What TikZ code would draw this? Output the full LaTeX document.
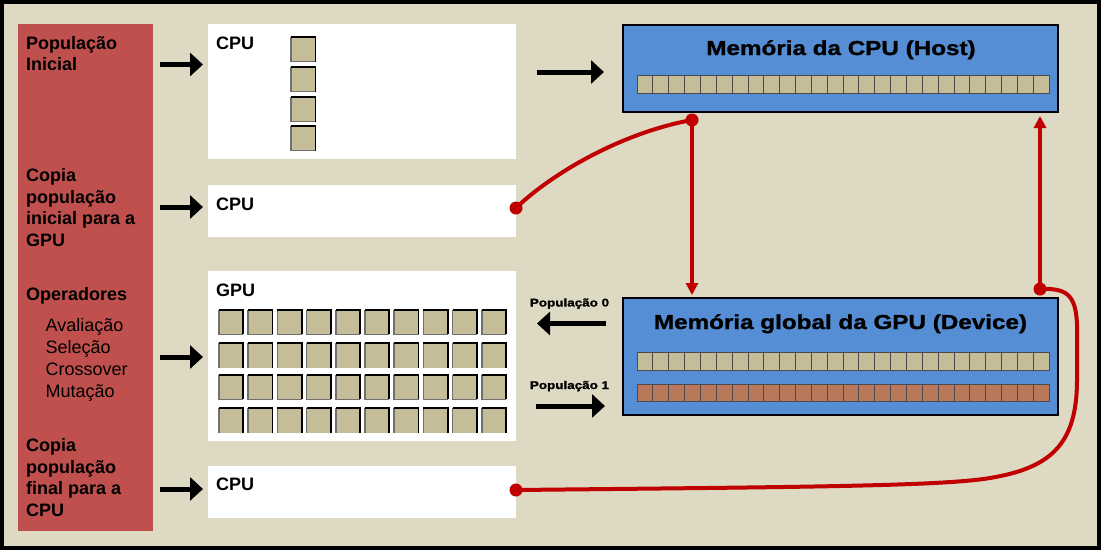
\documentclass[tikz,border=0pt]{standalone}
\usepackage{fontspec}
\setmainfont{Liberation Sans}
\newfontfamily\widefont[FakeStretch=1.2,FakeBold=1.2]{Liberation Sans}
\usetikzlibrary{arrows.meta,calc}
\definecolor{bgc}{HTML}{DDD9C3}
\definecolor{panelc}{HTML}{C0504D}
\definecolor{bluec}{HTML}{558ED5}
\definecolor{cellc}{HTML}{C4BD97}
\definecolor{brownc}{HTML}{B9785A}
\definecolor{redl}{HTML}{C00000}
\definecolor{edgegray}{HTML}{707070}
\definecolor{sepgray}{HTML}{4A4A4A}
\newcommand\gcell[3]{%
  \fill[cellc] (#1,#2) rectangle ++(#3,#3);
  \draw[edgegray, line width=1.5pt] (#1,#2) -- ++(0,#3) -- ++(#3,0);
  \draw[black, line width=1.8pt] (#1,#2) -- ++(#3,0) -- ++(0,#3);}
\newcommand\gcellopen[3]{%
  \fill[cellc] (#1,#2) rectangle ++(#3,#3);
  \draw[edgegray, line width=1.5pt] (#1,#2) -- ++(0,#3);
  \draw[black, line width=1.8pt] (#1,#2) -- ++(#3,0) -- ++(0,#3);}
\tikzset{
  panelbox/.style={fill=panelc, inner sep=0pt, outer sep=0pt, anchor=north west},
  whitebox/.style={fill=white, inner sep=0pt, outer sep=0pt, anchor=north west, minimum width=308pt},
  membox/.style={draw=black, line width=2.5pt, fill=bluec, inner sep=0pt, outer sep=0pt, anchor=north west, minimum width=435pt},
  lbl/.style={anchor=base west, align=left, inner sep=0pt, font=\fontsize{18}{21.5}\selectfont\bfseries},
  oplbl/.style={anchor=base west, align=left, inner sep=0pt, font=\fontsize{18}{21.8}\selectfont},
  boxlbl/.style={anchor=base west, inner sep=0pt, font=\fontsize{18}{21.5}\selectfont\bfseries},
  title/.style={anchor=base, inner sep=0pt, font={\widefont\fontsize{20.2}{24}\selectfont\bfseries}},
  poplbl/.style={anchor=base, inner sep=0pt, font={\widefont\fontsize{11.2}{13}\selectfont\bfseries}},
  blkarrow/.style={line width=5pt, -{Triangle[length=13pt,width=23pt]}},
  redline/.style={draw=redl, line width=4pt},
  redtip/.style={-{Triangle[length=12pt,width=12pt]}},
  memcell/.style={fill=cellc, draw=sepgray, line width=0.8pt},
  memcellb/.style={fill=brownc, draw=sepgray, line width=0.8pt}
}
\begin{document}
\begin{tikzpicture}[x=1pt,y=-1pt]
\path[use as bounding box] (0,0) rectangle (1101,550);
\fill[bgc] (0,0) rectangle (1101,550);
\draw[line width=4pt] (2,2) rectangle (1099,548);

% left panel
\node[panelbox, minimum width=135pt, minimum height=507pt] (panel) at (18,24) {};

% white boxes
\node[whitebox, minimum height=135pt] (b1) at (208,24) {};
\node[whitebox, minimum height=52pt] (b2) at (208,185) {};
\node[whitebox, minimum height=170pt] (b3) at (208,271) {};
\node[whitebox, minimum height=52pt] (b4) at (208,466) {};

% memory boxes
\node[membox, minimum height=87pt] (host) at (623,25) {};
\node[membox, minimum height=117pt] (dev) at (623,298) {};

% memory strips
\foreach \i in {0,...,25} {
  \draw[memcell] ({637+\i*15.846},75) rectangle ++(15.846,18);
  \draw[memcell] ({637+\i*15.846},352) rectangle ++(15.846,18);
  \draw[memcellb] ({637+\i*15.846},384) rectangle ++(15.846,17);
}

% CPU squares (box 1)
\foreach \yy in {37,67,97,126} { \gcell{291}{\yy}{24.5} }

% GPU grid (box 3)
\foreach \c in {0,...,9} {
  \gcell{219+\c*29.2}{310}{24.3}
  \gcellopen{219+\c*29.2}{343.3}{24.3}
  \gcell{219+\c*29.2}{375}{24.3}
  \gcellopen{219+\c*29.2}{408.3}{24.3}
}

% left labels (anchored at the baseline of their last line)
\node[lbl] (l1) at (26,70.7) {População\\Inicial};
\node[lbl] (l2) at (26,246) {Copia\\população\\inicial para a\\GPU};
\node[lbl] (l3) at (26,300.7) {Operadores};
\node[oplbl] (l3b) at (45.5,397.3) {Avaliação\\Seleção\\Crossover\\Mutação};
\node[lbl] (l4) at (26,516) {Copia\\população\\final para a\\CPU};

% box labels
\node[boxlbl] (t1) at (216,49.3) {CPU};
\node[boxlbl] (t2) at (216,210) {CPU};
\node[boxlbl] (t3) at (216,296) {GPU};
\node[boxlbl] (t4) at (216,490.7) {CPU};

% titles
\node[title] (ht) at (841,55) {Memória da CPU (Host)};
\node[title] (dt) at (840.5,329) {Memória global da GPU (Device)};
\node[poplbl] (p0) at (569.5,306.5) {População 0};
\node[poplbl] (p1) at (569.5,389) {População 1};

% black arrows
\coordinate (a1s) at (160,64.5);  \coordinate (a1e) at (203,64.5);
\coordinate (a2s) at (160,207);   \coordinate (a2e) at (203,207);
\coordinate (a3s) at (160,357);   \coordinate (a3e) at (203,357);
\coordinate (a4s) at (160,489);   \coordinate (a4e) at (203,489);
\coordinate (a5s) at (537,72);    \coordinate (a5e) at (604,72);
\coordinate (a6s) at (606,323.5); \coordinate (a6e) at (537,323.5);
\coordinate (a7s) at (536,406);   \coordinate (a7e) at (605,406);
\foreach \k in {1,...,7} { \draw[blkarrow] (a\k s) -- (a\k e); }

% red connectors
\coordinate (dA) at (516,208);
\coordinate (dB) at (692,120);
\coordinate (dC) at (1040,289);
\coordinate (dD) at (516,490);
\draw[redline] (dA) .. controls (550,175) and (620,133) .. (dB);
\draw[redline, redtip, shorten >=3pt] (dB) -- (dB |- dev.north);
\draw[redline, redtip, shorten >=4pt] (dC) -- (dC |- host.south);
\draw[redline] (dC) .. controls (1066,288) and (1076,294) .. (1077,325)
  -- (1077,380) .. controls (1077,445) and (1050,468) .. (990,478)
  .. controls (940,486.3) and (800,487) .. (dD);
\foreach \d in {dA,dB,dC,dD} { \fill[redl] (\d) circle (6.5pt); }
\end{tikzpicture}
\end{document}
